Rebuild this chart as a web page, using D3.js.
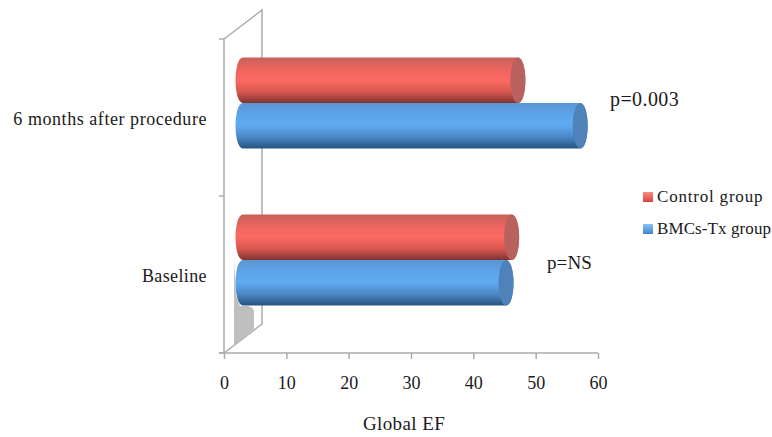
<!DOCTYPE html>
<html><head><meta charset="utf-8">
<script src="https://cdn.jsdelivr.net/npm/d3@7"></script>
<style>html,body{margin:0;background:#fff}svg{display:block}text{font-family:"Liberation Serif",serif;fill:#1a1a1a}</style>
</head><body><div id="c"></div>
<script>
const categories = ["6 months after procedure", "Baseline"];
const seriesNames = ["Control group", "BMCs-Tx group"];
const controlValues = [44.1, 43.1];
const bmcValues = [54.1, 42.2];
const xTicks = [0, 10, 20, 30, 40, 50, 60];
const annotations = ["p=0.003", "p=NS"];
const axisTitle = "Global EF";

const W = 772, H = 437;
const svg = d3.select("#c").append("svg").attr("width", W).attr("height", H);
const x = d3.scaleLinear().domain([0, 60]).range([224, 598]);
const y = d3.scaleBand().domain(categories).range([39, 353]);
const inner = d3.scaleBand().domain(seriesNames).range([0, 91]);
const dx = 19, dy = -14.5, wallDx = 38, wallDy = -29;
const axisCol = "#ababab";
const defs = svg.append("defs");
function grad(id, stops) {
  const g = defs.append("linearGradient").attr("id", id).attr("x1", 0).attr("x2", 0).attr("y1", 0).attr("y2", 1);
  stops.forEach(s => g.append("stop").attr("offset", s[0]).attr("stop-color", s[1]));
}
grad("red", [[0, "#c9605a"], [0.3, "#f0665f"], [0.5, "#fb6a62"], [0.75, "#d9574f"], [1, "#7f3432"]]);
grad("blue", [[0, "#5a96d4"], [0.3, "#5ea6ec"], [0.5, "#5fa9f0"], [0.75, "#4a87c6"], [1, "#27537f"]]);
grad("lr", [[0, "#fb8a80"], [1, "#d9443c"]]);
grad("lb", [[0, "#8ac0f5"], [1, "#3f85d0"]]);
const colors = {[seriesNames[0]]: ["red", "#b8615f"], [seriesNames[1]]: ["blue", "#4e82b8"]};
const legendFill = {[seriesNames[0]]: "lr", [seriesNames[1]]: "lb"};

// walls
const x0 = x(0), yB = y.range()[1], yT = y.range()[0];
const wall = d3.path();
wall.moveTo(x0, yB); wall.lineTo(x0, yT); wall.lineTo(x0 + wallDx, yT + wallDy);
wall.lineTo(x0 + wallDx, yB + wallDy); wall.lineTo(x0, yB);
svg.append("path").attr("d", wall.toString()).attr("fill", "none").attr("stroke", axisCol).attr("stroke-width", 1.5);

// shadow under the baseline bars
const by = y(categories[1]) + y.bandwidth() / 2 + dy + 45;
const sh = d3.path();
sh.moveTo(x0 + 10, by - 44); sh.lineTo(x0 + 10, yB - 8); sh.lineTo(x0 + 30, yB - 24);
sh.lineTo(x0 + 30, by + 6); sh.quadraticCurveTo(x0 + 29, by + 2, x0 + 24, by + 1);
sh.lineTo(x0 + 16, by + 1); sh.lineTo(x0 + 12, by - 10); sh.closePath();
svg.append("path").attr("d", sh.toString()).attr("fill", "#bfbfbf");

// bottom axis
const ax = d3.axisBottom(x).tickValues(xTicks).tickSize(6).tickPadding(17);
const gx = svg.append("g").attr("transform", `translate(0,${yB})`).call(ax);
gx.selectAll("path,line").attr("stroke", axisCol).attr("stroke-width", 1.5);
gx.select("path").attr("d", `M${x0 - 5},0H${x(60)}`);
gx.selectAll("text").style("font-family", '"Liberation Serif",serif').style("font-size", "18px").attr("fill", "#1a1a1a");

// left ticks
[yT, yT + y.step(), yB].forEach(v => svg.append("line").attr("x1", x0 - 5).attr("x2", x0).attr("y1", v).attr("y2", v).attr("stroke", axisCol).attr("stroke-width", 1.5));

// bars
const rx = 7.5;
const rows = [];
categories.forEach((c, i) => {
  rows.push({c, s: seriesNames[0], v: controlValues[i]});
  rows.push({c, s: seriesNames[1], v: bmcValues[i]});
});
rows.forEach(d => {
  const top = y(d.c) + y.bandwidth() / 2 + dy - 45.5 + inner(d.s);
  const h = inner.bandwidth(), ry = h / 2;
  const xs = x0 + dx, xe = x(d.v) + dx;
  const p = d3.path();
  p.moveTo(xs, top); p.lineTo(xe, top);
  p.bezierCurveTo(xe + rx * 1.33, top, xe + rx * 1.33, top + h, xe, top + h);
  p.lineTo(xs, top + h);
  p.bezierCurveTo(xs - rx * 1.33, top + h, xs - rx * 1.33, top, xs, top);
  svg.append("path").attr("d", p.toString()).attr("fill", `url(#${colors[d.s][0]})`);
  svg.append("ellipse").attr("cx", xe).attr("cy", top + ry).attr("rx", rx).attr("ry", ry).attr("fill", colors[d.s][1]);
});

// text
const txt = (t, px, py, a, fs, ls) => svg.append("text").attr("x", px).attr("y", py).attr("text-anchor", a || "start").attr("dominant-baseline", "middle").attr("font-size", fs || 16).attr("letter-spacing", ls || 0).text(t);
categories.forEach((c, i) => txt(c, 207, y(c) + y.bandwidth() / 2 + 3, "end", 18, i === 0 ? 0.55 : 0.38));
txt(axisTitle, 404, 426, "middle", 19, 0.4);
txt(annotations[0], 610, 101, "start", 20, 0.4);
txt(annotations[1], 547, 265, "start", 19, 0.1);

// legend
seriesNames.forEach((s, i) => {
  const ly = 197 + i * 32;
  svg.append("rect").attr("x", 643).attr("y", ly - 5).attr("width", 10).attr("height", 10).attr("fill", `url(#${legendFill[s]})`);
  txt(s, 657, ly + 1, "start", 17, i === 0 ? 0.8 : 0.1);
});
</script></body></html>
